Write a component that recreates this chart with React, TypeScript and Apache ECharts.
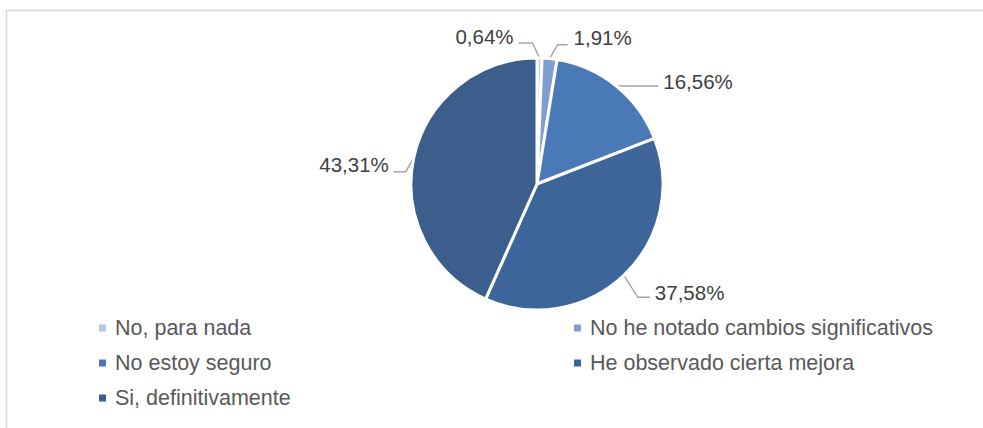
import React, { useEffect, useRef } from "react";
import * as echarts from "echarts";

const categories = [
  "No, para nada",
  "No he notado cambios significativos",
  "No estoy seguro",
  "He observado cierta mejora",
  "Si, definitivamente",
];
const values = [0.64, 1.91, 16.56, 37.58, 43.31];
const colors = ["#b7c8e4", "#7f9fd1", "#4a7ab5", "#3d6599", "#3b5e8d"];

// leader-line geometry relative to the slice anchor (style only)
const leader = [
  { dx: -7, dy: -15, len: 14, dir: -1, gap: 5, ty: -7 },
  { dx: 8, dy: -14, len: 10, dir: 1, gap: 6, ty: -7 },
  { dx: 20, dy: 0, len: 22, dir: 1, gap: 5, ty: -5 },
  { dx: 14, dy: 22, len: 12, dir: 1, gap: 5, ty: -5 },
  { dx: -8, dy: 14, len: 12, dir: -1, gap: 5, ty: -7 },
];

const FONT = "'Liberation Sans', Arial, sans-serif";

export default function App() {
  const ref = useRef<HTMLDivElement>(null);
  useEffect(() => {
    if (!ref.current) return;
    const chart = echarts.init(ref.current, null, { renderer: "svg" });
    const legendText = {
      fontFamily: FONT,
      fontSize: 21.5,
      color: "#595959",
      lineHeight: 26,
      padding: [0, 0, 0, 3],
    };
    chart.setOption({
      animation: false,
      backgroundColor: "#ffffff",
      graphic: [
        {
          type: "rect",
          shape: { x: 6.5, y: 10.5, width: 1100, height: 600 },
          style: { fill: "none", stroke: "#d9d9d9", lineWidth: 1.5 },
          silent: true,
        },
      ],
      legend: [
        {
          orient: "vertical",
          left: 97,
          top: 315,
          padding: 0,
          itemWidth: 9,
          itemHeight: 9,
          itemGap: 9,
          icon: "rect",
          selectedMode: false,
          data: [categories[0], categories[2], categories[4]],
          textStyle: legendText,
        },
        {
          orient: "vertical",
          left: 572,
          top: 315,
          padding: 0,
          itemWidth: 9,
          itemHeight: 9,
          itemGap: 9,
          icon: "rect",
          selectedMode: false,
          data: [categories[1], categories[3]],
          textStyle: legendText,
        },
      ],
      series: [
        {
          type: "pie",
          center: [537, 184],
          radius: 126,
          startAngle: 90,
          clockwise: true,
          avoidLabelOverlap: false,
          silent: true,
          itemStyle: { borderColor: "#ffffff", borderWidth: 3 },
          label: {
            show: true,
            position: "outside",
            fontFamily: FONT,
            fontSize: 20.5,
            color: "#404040",
            formatter: (p: any) => values[p.dataIndex].toFixed(2).replace(".", ",") + "%",
          },
          labelLine: {
            show: true,
            length: 15,
            length2: 12,
            lineStyle: { color: "#a6a6a6", width: 1.5 },
          },
          labelLayout: (params: any) => {
            const pts = params.labelLinePoints;
            if (!pts) return {};
            const o = leader[params.dataIndex];
            const ax = pts[0][0];
            const ay = pts[0][1];
            const ex = ax + o.dx;
            const ey = ay + o.dy;
            const fx = ex + o.len * o.dir;
            return {
              x: fx + o.gap * o.dir,
              y: ey + o.ty,
              align: o.dir > 0 ? "left" : "right",
              verticalAlign: "middle",
              labelLinePoints: [
                [ax, ay],
                [ex, ey],
                [fx, ey],
              ],
            };
          },
          emphasis: { disabled: true },
          data: categories.map((name, i) => ({
            name,
            value: values[i],
            itemStyle: { color: colors[i] },
          })),
        },
      ],
    });
    return () => chart.dispose();
  }, []);
  return (
    <div
      ref={ref}
      style={{ position: "fixed", left: 0, top: 0, width: 983, height: 428, background: "#fff" }}
    />
  );
}
